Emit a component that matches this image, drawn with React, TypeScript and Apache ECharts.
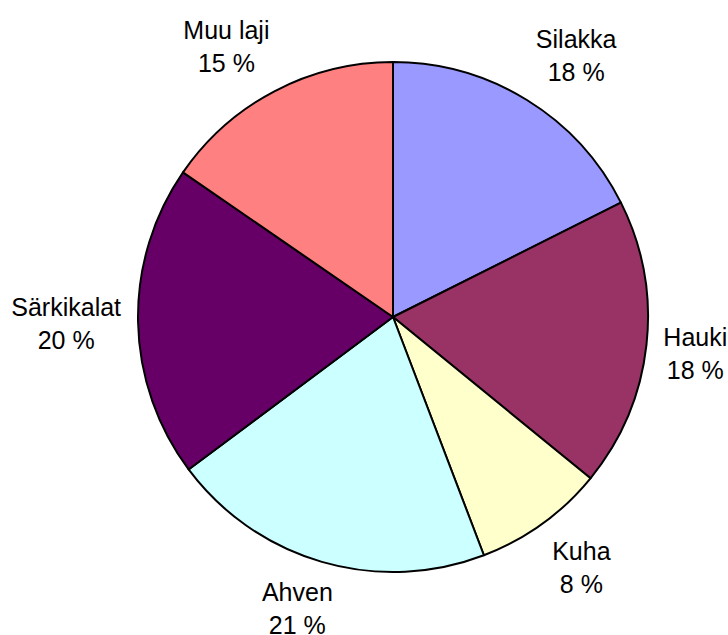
import React, { useEffect, useRef } from "react";
import * as echarts from "echarts";

const categories = ["Silakka", "Hauki", "Kuha", "Ahven", "Särkikalat", "Muu laji"];
const values = [17.6, 18.3, 8.3, 20.6, 19.8, 15.4];
const colors = ["#9999FF", "#993366", "#FFFFCC", "#CCFFFF", "#660066", "#FF8080"];

const CX = 393;
const CY = 317;
const R = 255;
const GAP = 17;

export default function App() {
  const ref = useRef<HTMLDivElement>(null);
  useEffect(() => {
    if (!ref.current) return;
    const chart = echarts.init(ref.current, null, { renderer: "svg" });
    const total = values.reduce((a, b) => a + b, 0);
    const clamp = (v: number) => Math.max(-1, Math.min(1, v));
    chart.setOption({
      animation: false,
      backgroundColor: "#ffffff",
      series: [
        {
          type: "pie",
          center: [CX, CY],
          radius: R,
          startAngle: 90,
          clockwise: true,
          avoidLabelOverlap: false,
          data: categories.map((name, i) => ({
            name,
            value: values[i],
            itemStyle: { color: colors[i] },
          })),
          itemStyle: { borderColor: "#000000", borderWidth: 2 },
          emphasis: { disabled: true },
          label: {
            show: true,
            position: "outside",
            color: "#000000",
            fontFamily: "Liberation Sans, Arial, sans-serif",
            fontSize: 25,
            lineHeight: 33,
            overflow: "none",
            formatter: (p: any) => `${p.name}\n${Math.round(p.percent)} %`,
          },
          labelLine: { show: false },
          labelLayout: (p: any) => {
            const i = p.dataIndex;
            let before = 0;
            for (let k = 0; k < i; k++) before += values[k];
            const mid = ((before + values[i] / 2) / total) * Math.PI * 2;
            const s = Math.sin(mid);
            const c = Math.cos(mid);
            const d = R + GAP;
            const w = p.labelRect.width;
            const h = p.labelRect.height;
            return {
              x: CX + d * s + (w / 2) * clamp(2 * s),
              y: CY - d * c - (h / 2 - 3) * clamp(2 * c),
              align: "center",
              verticalAlign: "middle",
            };
          },
        },
      ],
    });
    return () => chart.dispose();
  }, []);
  return (
    <div
      ref={ref}
      style={{ position: "absolute", left: 0, top: 0, width: 728, height: 635 }}
    />
  );
}
